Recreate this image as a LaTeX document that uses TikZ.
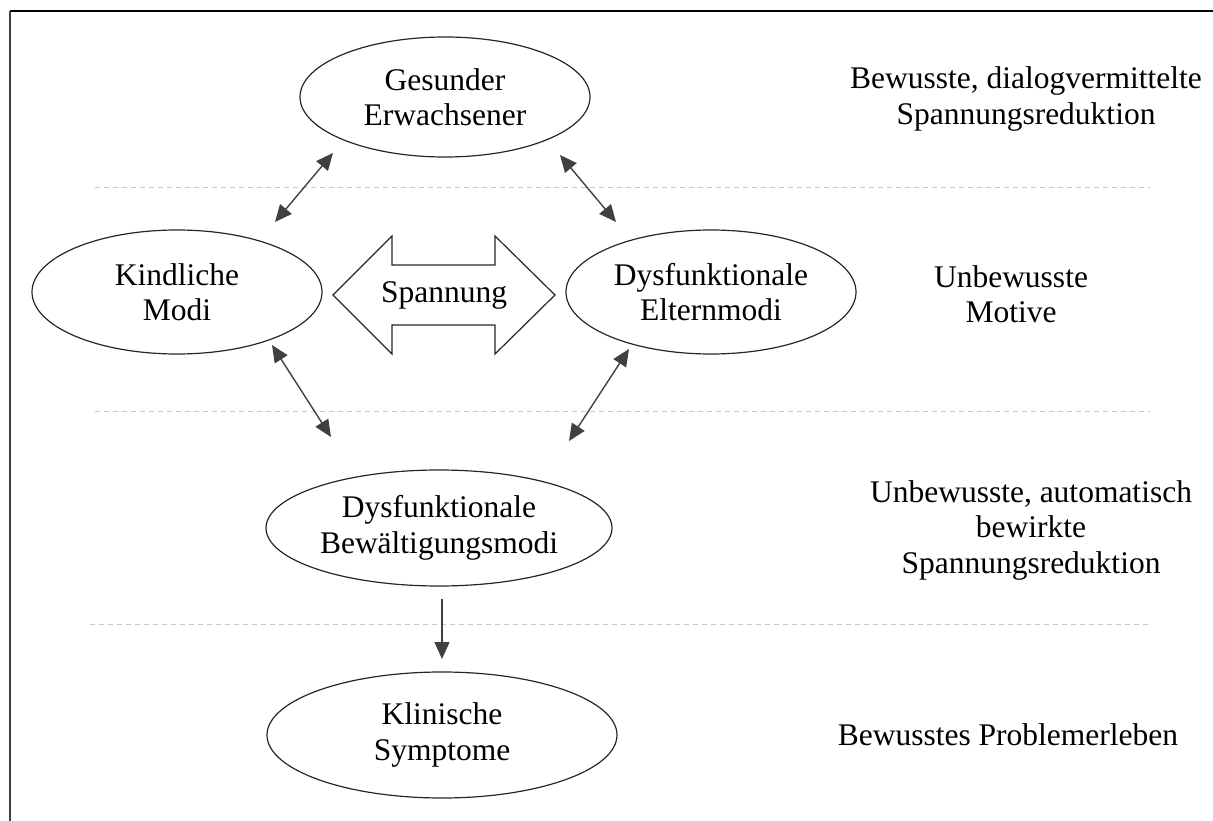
\documentclass[tikz,border=0pt]{standalone}
\usepackage{fontspec}
\setmainfont{Liberation Serif}
\usetikzlibrary{shapes.geometric,arrows.meta}
\definecolor{arrowgray}{HTML}{404040}
\definecolor{dashgray}{HTML}{C8C8C8}
\tikzset{
  txt/.style={font=\fontsize{31.5}{35.5}\selectfont, align=center, inner sep=0pt},
  mode/.style={txt, ellipse, draw=black!85, line width=1.2pt},
  conn/.style={draw=arrowgray, line width=1.4pt, {Triangle[length=17pt,width=15pt]}-{Triangle[length=17pt,width=15pt]}},
  oneway/.style={draw=arrowgray, line width=1.4pt, -{Triangle[length=17pt,width=15pt]}},
  sep/.style={draw=dashgray, line width=1pt, dash pattern=on 5pt off 4pt},
}
\begin{document}
\begin{tikzpicture}[x=1pt,y=-1pt]
\useasboundingbox (0,0) rectangle (1213,821);
% frame
\draw[black, line width=1.5pt] (1213,11) -- (10,11);
\draw[arrowgray, line width=2pt] (10,11) -- (10,821);
% separators
\draw[sep] (95,188) -- (1150,188);
\draw[sep] (95,411) -- (1150,411);
\draw[sep] (90,624) -- (1150,624);
% modes
\node[mode, minimum width=290pt, minimum height=120pt] (ge) at (445,97) {Gesunder\\Erwachsener};
\node[mode, minimum width=290pt, minimum height=124pt] (km) at (177,292) {Kindliche\\Modi};
\node[mode, minimum width=290pt, minimum height=124pt] (em) at (711,292) {Dysfunktionale\\Elternmodi};
\node[mode, minimum width=346pt, minimum height=116pt] (bm) at (439,528) {Dysfunktionale\\Bewältigungsmodi};
\node[mode, minimum width=350pt, minimum height=126pt] (ks) at (442,735) {Klinische\\Symptome};
% tension double arrow
\draw[black!85, line width=1.2pt] (333,295) -- (392,236) -- (392,265) -- (495,265) -- (495,236) -- (555,295) -- (495,354) -- (495,325) -- (392,325) -- (392,354) -- cycle;
\node[txt] (sp) at (444,295) {Spannung};
% connectors
\coordinate (a1s) at (275,222); \coordinate (a1e) at (333,153);
\coordinate (a2s) at (560,155); \coordinate (a2e) at (616,222);
\coordinate (a3s) at (272,345); \coordinate (a3e) at (331,437);
\coordinate (a4s) at (629,349); \coordinate (a4e) at (569,441);
\coordinate (a5s) at (442,599); \coordinate (a5e) at (442,659);
\draw[conn] (a1s) -- (a1e);
\draw[conn] (a2s) -- (a2e);
\draw[conn] (a3s) -- (a3e);
\draw[conn] (a4s) -- (a4e);
\draw[oneway] (a5s) -- (a5e);
% level labels
\node[txt] (l1) at (1026,99) {Bewusste, dialogvermittelte\\Spannungsreduktion};
\node[txt] (l2) at (1011,294) {Unbewusste\\Motive};
\node[txt] (l3) at (1031,530) {Unbewusste, automatisch\\bewirkte\\Spannungsreduktion};
\node[txt] (l4) at (1008,735) {Bewusstes Problemerleben};
\end{tikzpicture}
\end{document}
